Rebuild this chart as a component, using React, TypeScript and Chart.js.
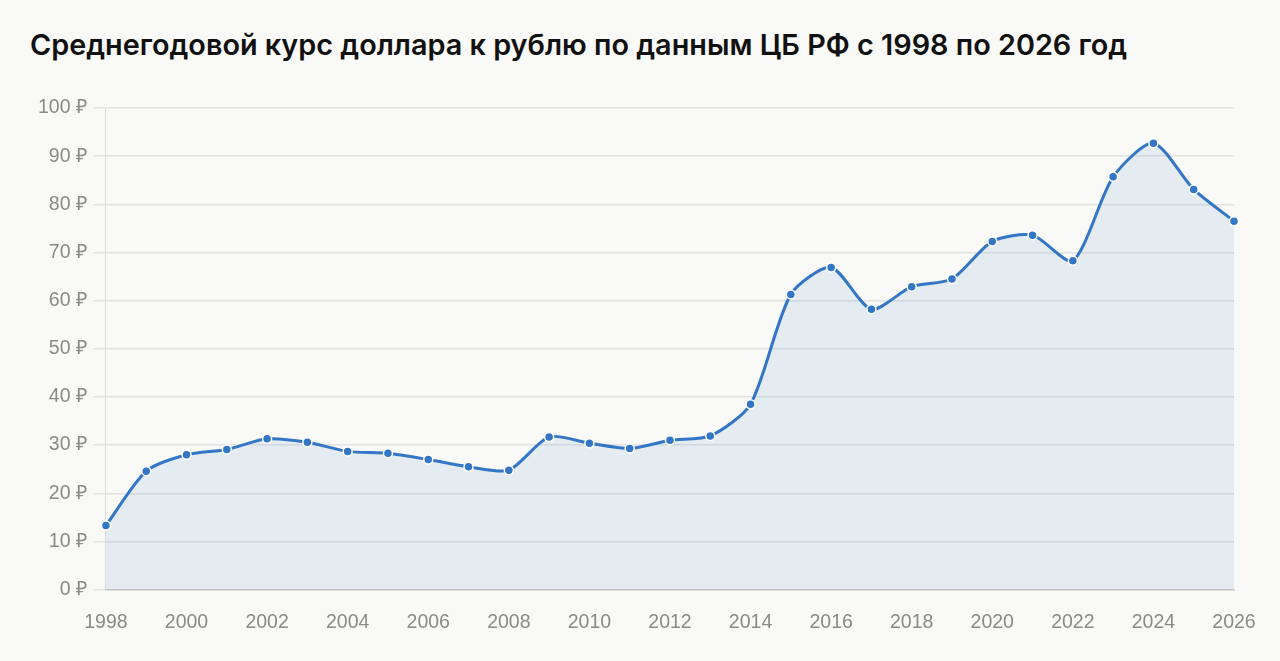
import { useEffect, useRef } from 'react';
import { Chart, registerables } from 'chart.js';

Chart.register(...registerables);

const years = [
  '1998', '1999', '2000', '2001', '2002', '2003', '2004', '2005', '2006', '2007',
  '2008', '2009', '2010', '2011', '2012', '2013', '2014', '2015', '2016', '2017',
  '2018', '2019', '2020', '2021', '2022', '2023', '2024', '2025', '2026',
];

const rates = [
  13.3, 24.6, 28.0, 29.1, 31.3, 30.6, 28.7, 28.3, 27.0, 25.5,
  24.8, 31.7, 30.4, 29.3, 31.0, 31.9, 38.5, 61.3, 66.9, 58.2,
  62.9, 64.5, 72.3, 73.6, 68.3, 85.7, 92.7, 83.1, 76.5,
];

const TITLE = 'Среднегодовой курс доллара к рублю по данным ЦБ РФ с 1998 по 2026 год';
const BG = '#f9f9f7';
const LINE = '#3376c6';
const TICK_COLOR = '#8a8a8a';

export default function App() {
  const canvasRef = useRef<HTMLCanvasElement>(null);
  const chartRef = useRef<Chart | null>(null);

  useEffect(() => {
    document.body.style.margin = '0';
    document.body.style.background = BG;
    if (!canvasRef.current) return;
    if (chartRef.current) chartRef.current.destroy();

    const ctx = canvasRef.current.getContext('2d')!;
    chartRef.current = new Chart(ctx, {
      type: 'line',
      data: {
        labels: years,
        datasets: [
          {
            data: rates,
            borderColor: LINE,
            borderWidth: 3,
            backgroundColor: 'rgba(51,118,198,0.1)',
            fill: 'origin',
            tension: 0.25,
            pointRadius: 4.5,
            pointBackgroundColor: LINE,
            pointBorderColor: '#ffffff',
            pointBorderWidth: 1.5,
          },
        ],
      },
      options: {
        responsive: true,
        maintainAspectRatio: false,
        animation: false,
        layout: { padding: { top: 108, left: 32, right: 46, bottom: 14 } },
        plugins: {
          legend: { display: false },
          tooltip: { enabled: false },
        },
        scales: {
          x: {
            grid: { display: false },
            border: { color: '#c9c9c9', width: 1.5 },
            ticks: {
              autoSkip: false,
              maxRotation: 0,
              color: TICK_COLOR,
              padding: 13,
              font: { family: 'Liberation Sans', size: 19.5 },
              callback: (_v, i) => (i % 2 === 0 ? years[i] : ''),
            },
          },
          y: {
            min: 0,
            max: 100,
            border: { color: '#dcdcdc', width: 1 },
            grid: { color: '#e2e2e2', lineWidth: 1.5, tickLength: 13 },
            ticks: {
              stepSize: 10,
              color: TICK_COLOR,
              padding: 6,
              font: { family: 'Liberation Sans', size: 19.5 },
              callback: (v) => `${v} ₽`,
            },
          },
        },
      },
    });

    return () => { chartRef.current?.destroy(); };
  }, []);

  return (
    <div style={{ position: 'fixed', inset: 0, width: 1280, height: 661, background: BG }}>
      <div
        style={{
          position: 'absolute',
          left: 30,
          top: 27,
          fontFamily: 'Inter, sans-serif',
          fontWeight: 600,
          fontSize: 28.8,
          color: '#111',
          whiteSpace: 'nowrap',
        }}
      >
        {TITLE}
      </div>
      <div style={{ position: 'absolute', left: 0, top: 0, width: 1280, height: 661 }}>
        <canvas ref={canvasRef} />
      </div>
    </div>
  );
}
